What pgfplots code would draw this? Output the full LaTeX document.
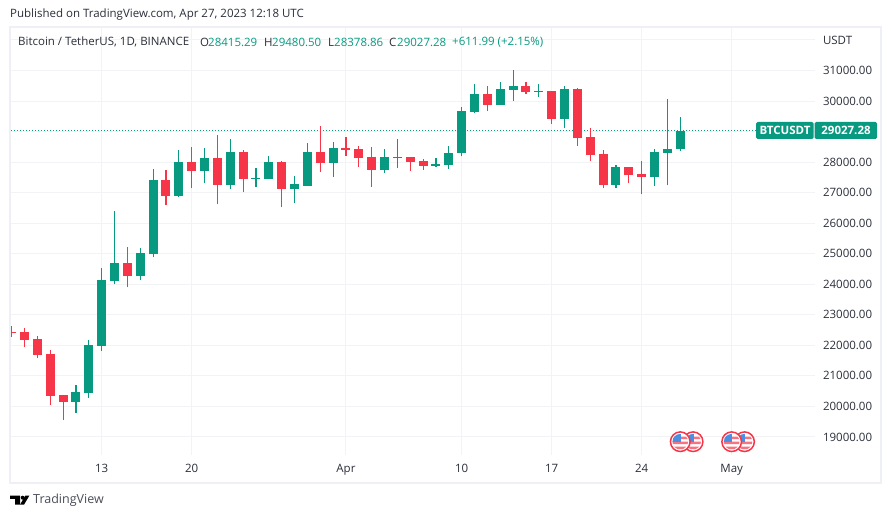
\documentclass[border=0pt]{standalone}
\usepackage{fontspec}
\setmainfont{Open Sans}
\usepackage{pgfplots}
\usepackage{pgfplotstable}
\pgfplotsset{compat=1.18}
\definecolor{up}{HTML}{089981}
\definecolor{down}{HTML}{F63648}
\definecolor{gridc}{HTML}{F2F3F6}
\definecolor{framec}{HTML}{EFF0F5}
\definecolor{txt}{HTML}{2A2E39}
\definecolor{flagblue}{HTML}{4A90E2}

% day of month counted from 1 March: d o h l c
\pgfplotstableread{
d o h l c
11 20141 20697 19781 20468
12 20435 22169 20272 22005
13 21972 24523 21809 24130
14 24098 26387 24000 24686
16 24261 25177 24130 25013
17 24981 27760 24883 27400
19 26877 28382 26845 27989
21 27695 28447 27302 28120
23 27237 28741 27106 28316
25 27433 27793 27172 27466
26 27433 28185 27433 27989
28 27106 27531 26648 27270
29 27226 28632 27226 28338
31 27978 28665 27520 28469
35 27749 28436 27651 28174
36 28142 28763 27815 28174
39 27880 28142 27847 27945
40 27913 28534 27782 28305
41 28289 29798 28191 29667
42 29634 30552 29601 30224
44 29863 30617 29863 30388
45 30355 31011 29994 30486
47 30300 30552 30126 30322
49 29404 30486 29109 30388
53 27240 27896 27142 27830
56 27502 28421 27207 28322
57 28289 30060 27240 28421
58 28415.29 29480.50 28378.86 29027.28
}\upbars

\pgfplotstableread{
d o h l c
6 22430 22626 22267 22408
7 22430 22561 21940 22168
8 22201 22299 21580 21678
9 21711 21842 20043 20337
10 20370 20370 19553 20141
15 24686 25210 23902 24261
18 27400 27728 26583 26877
20 27989 28480 27139 27695
22 28120 28872 26616 27237
24 28316 28382 27008 27433
27 27989 28022 26518 27106
30 28338 29188 27684 27978
32 28469 28828 28207 28403
33 28436 28534 27847 28142
34 28174 28501 27193 27749
37 28174 28174 27717 28011
38 28044 28109 27749 27880
43 30224 30486 29667 29863
46 30486 30617 30224 30290
48 30322 30322 29240 29404
50 30388 30421 28519 28781
51 28814 29109 28027 28224
52 28257 28388 27142 27240
54 27830 27830 27306 27568
55 27601 28027 26945 27502
}\downbars

% the little US flag of the calendar events
\pgfdeclareplotmark{usflag}{%
  \pgfsetlinewidth{1.5pt}%
  \pgfsetstrokecolor{down}\pgfsetfillcolor{white}%
  \pgfpathcircle{\pgfpointorigin}{9.8pt}\pgfusepath{fill,stroke}%
  \begin{pgfscope}
    \pgfpathcircle{\pgfpointorigin}{7.8pt}\pgfusepath{clip}%
    \pgfsetfillcolor{down!70}%
    \pgfpathrectangle{\pgfpoint{-9pt}{2.6pt}}{\pgfpoint{18pt}{2.4pt}}%
    \pgfpathrectangle{\pgfpoint{-9pt}{-2.4pt}}{\pgfpoint{18pt}{2.4pt}}%
    \pgfpathrectangle{\pgfpoint{-9pt}{-7.4pt}}{\pgfpoint{18pt}{2.4pt}}%
    \pgfusepath{fill}%
    \pgfsetfillcolor{flagblue}%
    \pgfpathrectangle{\pgfpoint{-9pt}{-0.5pt}}{\pgfpoint{9.5pt}{9.5pt}}%
    \pgfusepath{fill}%
  \end{pgfscope}
}

\begin{document}
\fontsize{11.5pt}{13pt}\selectfont
\begin{tikzpicture}
\path[use as bounding box] (0,0) rectangle (891pt,518pt);
\begin{axis}[
  at={(11pt,63pt)}, anchor=south west,
  scale only axis, width=804pt, height=427pt,
  xmin=5.948, xmax=68.48, ymin=18410, ymax=32392,
  axis line style={draw=none},
  major tick length=0pt,
  scaled y ticks=false,
  grid=major, grid style={gridc, line width=1pt},
  xtick={13,20,32,41,48,55,62},
  xticklabels={13,20,Apr,10,17,24,May},
  ytick={19000,20000,21000,22000,23000,24000,25000,26000,27000,28000,29000,30000,31000,32000},
  yticklabels={19000.00,20000.00,21000.00,22000.00,23000.00,24000.00,25000.00,26000.00,27000.00,28000.00,,30000.00,31000.00,USDT},
  yticklabel pos=right,
  tick label style={font=\fontsize{11.5pt}{13pt}\selectfont, text=txt},
  yticklabel style={anchor=west, xshift=4pt},
  xticklabel style={yshift=-5pt},
]
% last price
\addplot[up, line width=1pt, dash pattern=on 1pt off 2pt] coordinates {(5.948,29027.28) (68.48,29027.28)};
% wicks
\addplot[draw=none, forget plot, error bars/.cd, y dir=plus, y explicit, error mark=none,
  error bar style={up, line width=1.1pt}]
  table[x=d, y=l, y error expr=\thisrow{h}-\thisrow{l}] {\upbars};
\addplot[draw=none, forget plot, error bars/.cd, y dir=plus, y explicit, error mark=none,
  error bar style={down, line width=1.1pt}]
  table[x=d, y=l, y error expr=\thisrow{h}-\thisrow{l}] {\downbars};
% bodies
\addplot[draw=none, forget plot, error bars/.cd, y dir=plus, y explicit, error mark=none,
  error bar style={up, line width=9pt}]
  table[x=d, y=o, y error expr=\thisrow{c}-\thisrow{o}] {\upbars};
\addplot[draw=none, forget plot, error bars/.cd, y dir=plus, y explicit, error mark=none,
  error bar style={down, line width=9pt}]
  table[x=d, y=c, y error expr=\thisrow{o}-\thisrow{c}] {\downbars};
% calendar events
\addplot[only marks, mark=usflag] coordinates {(59,18845) (58,18845) (63,18845) (62,18845)};
\end{axis}

\begin{scope}[x=1pt, y=-1pt, shift={(0pt,518pt)}]
  \draw[framec, line width=2pt] (10,27.5) rectangle (881,483.5);
  \node[anchor=west, inner sep=0, text=txt] at (10,15) {Published on TradingView.com, Apr 27, 2023 12:18 UTC};
  \node[anchor=west, inner sep=0, text=txt] at (18,42) {Bitcoin / TetherUS, 1D, BINANCE};
  \node[anchor=west, inner sep=0, text=txt] at (200,42) {O};
  \node[anchor=west, inner sep=0, text=up] at (208,42) {28415.29};
  \node[anchor=west, inner sep=0, text=txt] at (264,42) {H};
  \node[anchor=west, inner sep=0, text=up] at (272,42) {29480.50};
  \node[anchor=west, inner sep=0, text=txt] at (328,42) {L};
  \node[anchor=west, inner sep=0, text=up] at (334,42) {28378.86};
  \node[anchor=west, inner sep=0, text=txt] at (389,42) {C};
  \node[anchor=west, inner sep=0, text=up] at (397,42) {29027.28};
  \node[anchor=west, inner sep=0, text=up] at (452,42) {+611.99 (+2.15\%)};
  \fill[up, rounded corners=1.5pt] (756,122) rectangle (813.5,139);
  \fill[up, rounded corners=1.5pt] (814.5,122) rectangle (877,139);
  \node[text=white, font=\fontsize{11.5pt}{13pt}\selectfont\bfseries] at (785,130.5) {BTCUSDT};
  \node[text=white, font=\fontsize{11.5pt}{13pt}\selectfont\bfseries] at (846,130.5) {29027.28};
  \fill[black] (10,495.7) rectangle (20,499) (15,495.7) rectangle (20,504.7);
  \fill[black] (22.7,497.7) circle (2pt);
  \fill[black] (29.3,495.7) -- (25.3,495.7) -- (20,504.7) -- (24,504.7) -- cycle;
  \node[anchor=west, inner sep=0, text=txt!85, font=\fontsize{12.5pt}{15pt}\selectfont] at (33,500) {TradingView};
\end{scope}
\end{tikzpicture}
\end{document}
